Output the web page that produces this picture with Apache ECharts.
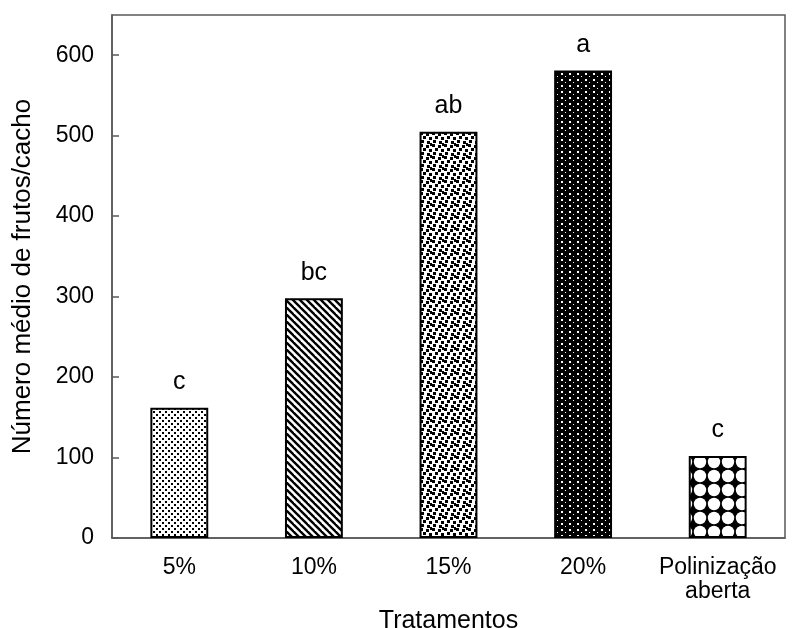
<!DOCTYPE html>
<html>
<head>
<meta charset="utf-8">
<script src="https://cdn.jsdelivr.net/npm/echarts@6/dist/echarts.min.js"></script>
<style>
  html, body { margin: 0; padding: 0; background: #fff; }
  #chart { width: 803px; height: 628px; }
</style>
</head>
<body>
<div id="chart"></div>
<script>
// dados do gráfico
const categories = ["5%", "10%", "15%", "20%", "Polinização\naberta"];
const values = [162, 298, 505, 581, 102];
const letters = ["c", "bc", "ab", "a", "c"];

// texturas das barras
function tile(w, h, draw) {
  const c = document.createElement("canvas");
  c.width = w;
  c.height = h;
  const ctx = c.getContext("2d");
  ctx.fillStyle = "#fff";
  ctx.fillRect(0, 0, w, h);
  ctx.fillStyle = "#000";
  draw(ctx, w, h);
  return { image: c, repeat: "repeat" };
}

const patterns = [
  // pontos finos
  tile(6, 6, (ctx) => {
    ctx.fillRect(0, 0, 2, 2);
    ctx.fillRect(3, 3, 2, 2);
  }),
  // listras diagonais
  tile(7, 7, (ctx, s) => {
    ctx.lineWidth = 2.4;
    ctx.strokeStyle = "#000";
    for (let o = -s; o <= s; o += s) {
      ctx.beginPath();
      ctx.moveTo(o - 1, -1);
      ctx.lineTo(o + s + 1, s + 1);
      ctx.stroke();
    }
  }),
  // confete
  tile(12, 12, (ctx) => {
    const sq = [[0, 0], [6, 1], [3, 4], [9, 5], [1, 8], [7, 9], [10, 11]];
    sq.forEach(([x, y]) => ctx.fillRect(x, y, 3, 3));
    ctx.fillRect(10, 0, 2, 2);
  }),
  // preto com pontos brancos
  tile(8, 6, (ctx, w, h) => {
    ctx.fillRect(0, 0, w, h);
    ctx.fillStyle = "#fff";
    ctx.fillRect(1, 1, 2, 2);
    ctx.fillRect(5, 4, 1, 1);
  }),
  // estrelas
  tile(14, 14, (ctx, s) => {
    ctx.fillRect(0, 0, s, s);
    ctx.fillStyle = "#fff";
    [[0, 0], [s, 0], [0, s], [s, s]].forEach(([x, y]) => {
      ctx.beginPath();
      ctx.arc(x, y, 6.2, 0, Math.PI * 2);
      ctx.fill();
    });
  })
];

const chart = echarts.init(document.getElementById("chart"));

const axisColor = "#595959";
const font = "Liberation Sans, Arial, sans-serif";

chart.setOption({
  animation: false,
  grid: {
    left: 112,
    right: 18,
    top: 15,
    bottom: 90,
    outerBoundsMode: "none",
    containLabel: false,
    show: true,
    borderColor: axisColor,
    borderWidth: 1.5
  },
  xAxis: {
    type: "category",
    data: categories,
    name: "Tratamentos",
    nameLocation: "middle",
    nameGap: 66,
    nameTextStyle: { fontFamily: font, fontSize: 25, color: "#000" },
    axisLine: { lineStyle: { color: axisColor, width: 1.5 } },
    axisTick: { show: false },
    axisLabel: {
      interval: 0,
      hideOverlap: false,
      fontFamily: font,
      fontSize: 23,
      color: "#000",
      margin: 18,
      lineHeight: 24
    }
  },
  yAxis: {
    type: "value",
    min: 0,
    max: 650,
    interval: 100,
    name: "Número médio de frutos/cacho",
    nameLocation: "middle",
    nameGap: 76,
    nameTextStyle: { fontFamily: font, fontSize: 26, color: "#000" },
    splitLine: { show: false },
    axisLine: { show: true, lineStyle: { color: axisColor, width: 1.5 } },
    axisTick: { show: true, inside: true, length: 7, lineStyle: { color: axisColor, width: 1.5 } },
    axisLabel: {
      fontFamily: font,
      fontSize: 23,
      color: "#000",
      margin: 18,
      showMaxLabel: false
    }
  },
  series: [
    {
      type: "bar",
      barWidth: "43%",
      data: values.map((v, i) => ({
        value: v,
        itemStyle: { color: patterns[i] },
        label: { formatter: letters[i] }
      })),
      itemStyle: { borderColor: "#000", borderWidth: 2 },
      label: {
        show: true,
        position: "top",
        distance: 13,
        fontFamily: font,
        fontSize: 25,
        color: "#000"
      }
    }
  ]
});
</script>
</body>
</html>
